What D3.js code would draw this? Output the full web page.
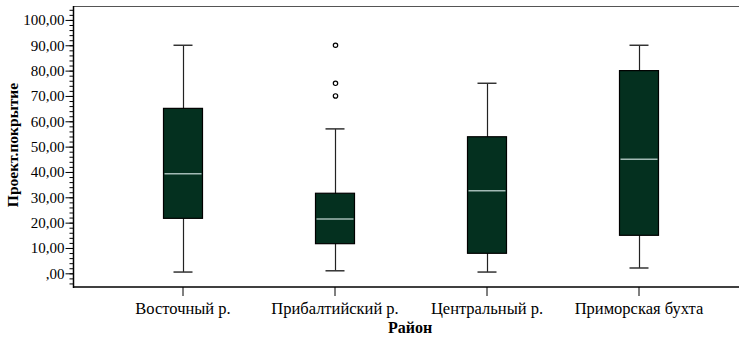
<!DOCTYPE html>
<html>
<head>
<meta charset="utf-8">
<script src="https://cdn.jsdelivr.net/npm/d3@7"></script>
<style>
  body { margin: 0; background: #fff; }
  svg { display: block; }
  svg text { font-family: 'Liberation Serif', 'Times New Roman', 'DejaVu Serif', serif; }
</style>
</head>
<body>
<svg id="chart" width="739" height="339"></svg>
<script>
// Районы и статистика ящиков (Проект.покрытие)
const categories = ['Восточный р.', 'Прибалтийский р.', 'Центральный р.', 'Приморская бухта'];
const whiskerLow = [0.5, 1.0, 0.5, 2.1];
const q1 = [21.7, 11.7, 7.9, 15.0];
const median = [39.3, 21.4, 32.6, 45.0];
const q3 = [65.1, 31.6, 53.9, 80.0];
const whiskerHigh = [90.0, 57.0, 75.0, 90.0];
const outliers = [[], [70, 75, 90], [], []];
const majorTicks = [0, 10, 20, 30, 40, 50, 60, 70, 80, 90, 100];
const minorTicks = d3.range(-4, 106, 2);

const svg = d3.select('#chart');
const plotLeft = 73, plotRight = 739, plotTop = 6, plotBottom = 287;

const x = d3.scaleBand().domain(categories).range([107, 715]);
const y = d3.scaleLinear().domain([-5.4, 105.5]).range([plotBottom, plotTop]);

const fmt = v => (v === 0 ? '' : String(v)) + ',00';

// рамка
svg.append('line').attr('x1', plotLeft).attr('x2', plotRight).attr('y1', plotTop + 0.5).attr('y2', plotTop + 0.5)
  .attr('stroke', '#555').attr('stroke-width', 1);

// ось Y
const yMinor = d3.axisLeft(y).tickValues(minorTicks).tickSize(4).tickFormat('');
svg.append('g').attr('transform', `translate(${plotLeft + 0.5},0)`).call(yMinor)
  .call(g => g.select('.domain').remove())
  .selectAll('line').attr('stroke', '#000');

const yAxis = d3.axisLeft(y).tickValues(majorTicks).tickSize(8).tickPadding(1).tickFormat(fmt);
svg.append('g').attr('transform', `translate(${plotLeft + 0.5},0)`).call(yAxis)
  .attr('font-family', null)
  .call(g => g.select('.domain').remove())
  .call(g => g.selectAll('line').attr('stroke', '#000'))
  .selectAll('text').attr('font-size', 15).attr('fill', '#000');

svg.append('line').attr('x1', plotLeft + 0.5).attr('x2', plotLeft + 0.5).attr('y1', plotTop).attr('y2', plotBottom + 1)
  .attr('stroke', '#000').attr('stroke-width', 1.5);

// ось X
const xAxis = d3.axisBottom(x).tickSize(9).tickPadding(6);
svg.append('g').attr('transform', `translate(0,${plotBottom})`).call(xAxis)
  .attr('font-family', null)
  .call(g => g.select('.domain').remove())
  .call(g => g.selectAll('line').attr('stroke', '#000'))
  .selectAll('text').attr('font-size', 16.5).attr('fill', '#000');

svg.append('line').attr('x1', plotLeft).attr('x2', plotRight).attr('y1', plotBottom).attr('y2', plotBottom)
  .attr('stroke', '#000').attr('stroke-width', 1.5);

// ящики
const boxW = 39, capW = 19;
const boxes = svg.append('g').selectAll('g')
  .data(categories.map((c, i) => ({ c, i })))
  .enter().append('g')
  .attr('transform', d => `translate(${x(d.c) + x.bandwidth() / 2},0)`);

boxes.append('line').attr('x1', 0.5).attr('x2', 0.5)
  .attr('y1', d => y(whiskerHigh[d.i])).attr('y2', d => y(whiskerLow[d.i]))
  .attr('stroke', '#222').attr('stroke-width', 1.2);
boxes.append('line').attr('x1', -capW / 2).attr('x2', capW / 2)
  .attr('y1', d => y(whiskerHigh[d.i])).attr('y2', d => y(whiskerHigh[d.i]))
  .attr('stroke', '#333').attr('stroke-width', 1.5);
boxes.append('line').attr('x1', -capW / 2).attr('x2', capW / 2)
  .attr('y1', d => y(whiskerLow[d.i])).attr('y2', d => y(whiskerLow[d.i]))
  .attr('stroke', '#333').attr('stroke-width', 1.5);

boxes.append('rect')
  .attr('x', -boxW / 2).attr('width', boxW)
  .attr('y', d => y(q3[d.i])).attr('height', d => y(q1[d.i]) - y(q3[d.i]))
  .attr('fill', '#04301f').attr('stroke', '#000').attr('stroke-width', 1.2);

boxes.append('line').attr('x1', -boxW / 2 + 1).attr('x2', boxW / 2 - 1)
  .attr('y1', d => y(median[d.i])).attr('y2', d => y(median[d.i]))
  .attr('stroke', '#a3bab5').attr('stroke-width', 1.5);

boxes.selectAll('circle')
  .data(d => outliers[d.i])
  .enter().append('circle')
  .attr('cx', 0.5).attr('cy', v => y(v)).attr('r', 2.2)
  .attr('fill', '#fff').attr('stroke', '#000').attr('stroke-width', 1.2);

// подписи осей
svg.append('text').attr('x', 410).attr('y', 333).attr('text-anchor', 'middle')
  .attr('font-size', 16).attr('font-weight', 'bold').text('Район');
svg.append('text').attr('transform', 'translate(18,145) rotate(-90)').attr('text-anchor', 'middle')
  .attr('font-size', 15.5).attr('font-weight', 'bold').text('Проект.покрытие');
</script>
</body>
</html>
